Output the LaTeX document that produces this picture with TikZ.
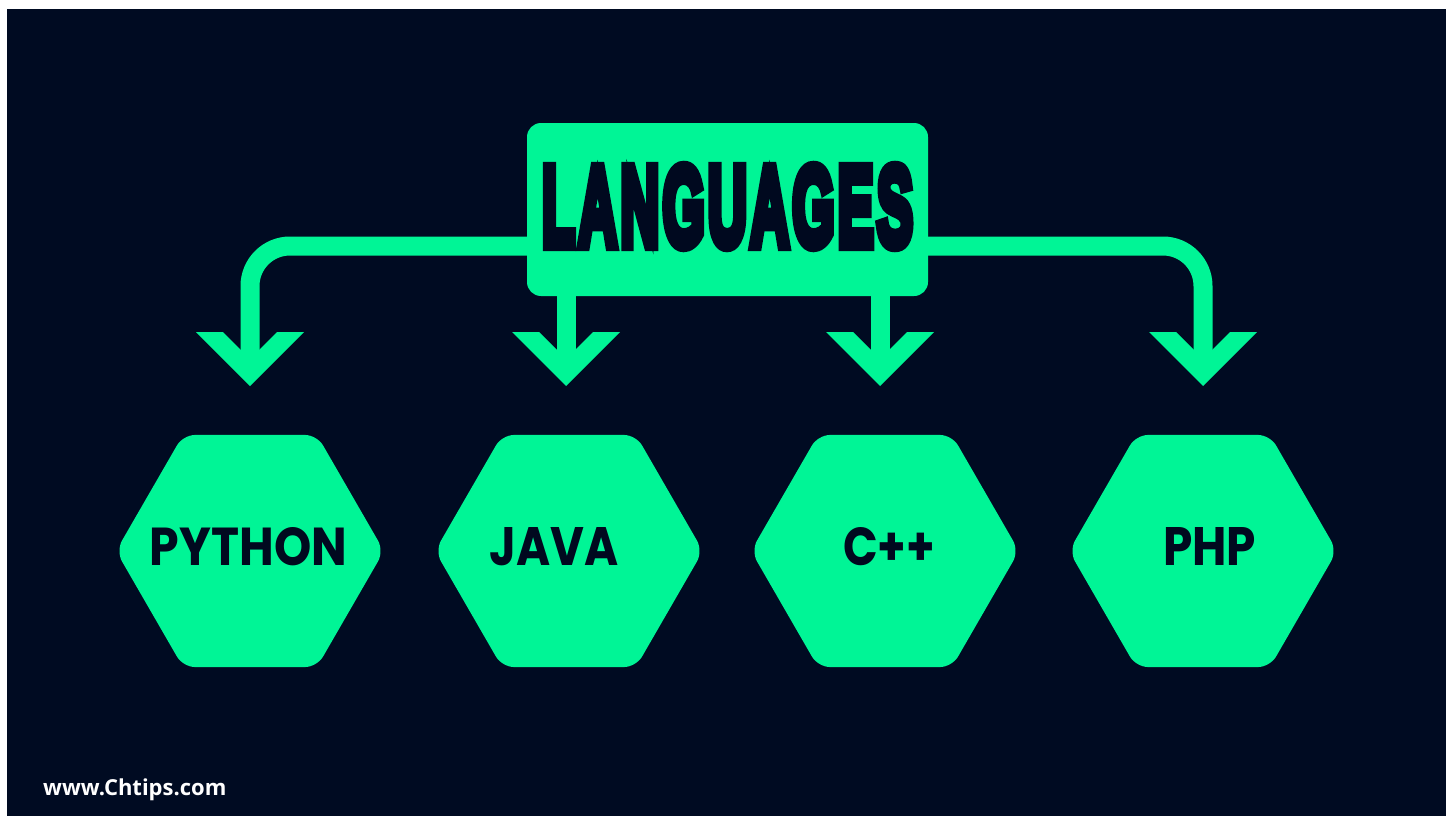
\documentclass[tikz,border=0pt]{standalone}
\usepackage{fontspec}
\usetikzlibrary{shapes.geometric}
\newfontfamily\heavy[FakeBold=10,LetterSpace=6]{Liberation Sans Bold}
\newfontfamily\pop{Poppins}
\newfontfamily\osans{Open Sans}
\definecolor{bgnavy}{HTML}{000B22}
\definecolor{mint}{HTML}{00F596}
\definecolor{ink}{HTML}{00091F}
\tikzset{
  conn/.style={draw=mint, line width=19pt},
  hex/.style={regular polygon, regular polygon sides=6,
    minimum size=268pt, inner sep=0pt, fill=mint, rounded corners=12pt},
  hextext/.style={anchor=base, text=ink, inner sep=0pt},
  chev/.pic={\fill[mint] (-54,-54) -- (-27,-54) -- (0,-27) -- (27,-54) -- (54,-54) -- (0,0) -- cycle;}
}
\begin{document}
\begin{tikzpicture}[x=1pt,y=-1pt]
\useasboundingbox (0,0) rectangle (1452,816);
\fill[white] (0,0) rectangle (1452,816);
\fill[bgnavy] (7,9) rectangle (1446,816);

% top box
\node[fill=mint, rounded corners=14pt, minimum width=401pt, minimum height=173pt, inner sep=0pt]
  (lang) at (727.5,209.5) {};
\node[inner sep=0pt, text=ink] (langtext) at (727.5,206.5)
  {\resizebox{371pt}{79pt}{\heavy LANGUAGES}};

% hexagons
\node[hex] (py) at (250,551) {};
\node[hex] (java) at (569,551) {};
\node[hex] (cpp) at (885,551) {};
\node[hex] (php) at (1203,551) {};

\node[hextext] at (248.5,565) {\resizebox{197pt}{38pt}{\pop\bfseries PYTHON}};
\node[hextext] at (554.5,565) {\resizebox{129pt}{38pt}{\pop\bfseries JAVA}};
\node[hextext] at (889,565) {\resizebox{92pt}{38pt}{\pop\bfseries C++}};
\node[hextext] at (1209.5,565) {\resizebox{93pt}{38pt}{\pop\bfseries PHP}};

% arrow tips
\coordinate (pyA) at (250,386);
\coordinate (javaA) at (566,386);
\coordinate (cppA) at (880,386);
\coordinate (phpA) at (1203,386);

\draw[conn, rounded corners=40pt] ([yshift=-36.5pt]lang.west) -| ([yshift=27pt]pyA);
\draw[conn, rounded corners=40pt] ([yshift=-36.5pt]lang.east) -| ([yshift=27pt]phpA);
\draw[conn] (lang.south -| javaA) -- ([yshift=27pt]javaA);
\draw[conn] (lang.south -| cppA) -- ([yshift=27pt]cppA);

\pic at (pyA) {chev};
\pic at (javaA) {chev};
\pic at (cppA) {chev};
\pic at (phpA) {chev};

\node[anchor=base west, inner sep=0pt, text=white] (site) at (43,795) {\osans\bfseries\fontsize{22}{24}\selectfont www.Chtips.com};
\end{tikzpicture}
\end{document}
